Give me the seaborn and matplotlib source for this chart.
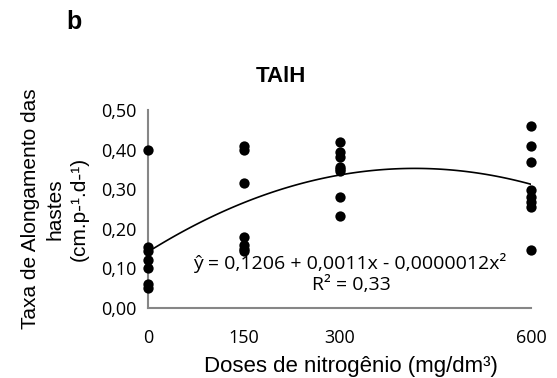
import pandas as pd
import numpy as np
import matplotlib.pyplot as plt
import seaborn as sns

sns.set_theme(style="white", rc={"text.color": "black", "axes.labelcolor": "black"})

# leituras do gráfico (TAlH x dose de N)
dose_0 = [0.40, 0.155, 0.145, 0.12, 0.10, 0.06, 0.05]
dose_150 = [0.41, 0.40, 0.315, 0.18, 0.16, 0.15, 0.145]
dose_300 = [0.42, 0.395, 0.382, 0.357, 0.35, 0.345, 0.281, 0.232]
dose_600 = [0.46, 0.409, 0.369, 0.298, 0.281, 0.268, 0.256, 0.146]
doses = [0, 150, 300, 600]
y_ticks = [0.0, 0.1, 0.2, 0.3, 0.4, 0.5]

df = pd.DataFrame({
    "dose": [0] * len(dose_0) + [150] * len(dose_150) + [300] * len(dose_300) + [600] * len(dose_600),
    "taxa": dose_0 + dose_150 + dose_300 + dose_600,
})

fig = plt.figure(figsize=(5.57, 3.78), dpi=100)
ax = fig.add_axes([148 / 557, 1 - 308 / 378, 383 / 557, 198 / 378])

sns.regplot(data=df, x="dose", y="taxa", order=2, ci=None, ax=ax,
            scatter_kws={"s": 55, "color": "black", "alpha": 1, "clip_on": False,
                         "linewidths": 0, "zorder": 3},
            line_kws={"color": "black", "lw": 1.2})

ax.set_xlim(0, 600)
ax.set_ylim(0, 0.5)
ax.set_xticks(doses)
ax.set_yticks(y_ticks)
ax.set_xticklabels([str(d) for d in doses], fontsize=13, family="Open Sans")
ax.set_yticklabels([f"{v:.2f}".replace(".", ",") for v in y_ticks], fontsize=13, family="Open Sans")

for s in ["top", "right"]:
    ax.spines[s].set_visible(False)
for s in ["left", "bottom"]:
    ax.spines[s].set_color("#868686")
    ax.spines[s].set_linewidth(1.5)
ax.tick_params(axis="both", direction="out", length=5, width=1.5, color="#868686", labelcolor="black")
ax.tick_params(axis="x", pad=10)
ax.tick_params(axis="y", pad=3)

ax.set_xlabel("Doses de nitrogênio (mg/dm³)", fontsize=16, family="Liberation Sans")
ax.xaxis.set_label_coords(0.5 + (351 - 339.5) / 383, -0.24)
ax.set_ylabel("Taxa de Alongamento das\nhastes\n(cm.p-¹.d-¹)", fontsize=15, family="Liberation Sans",
              linespacing=1.38)
ax.yaxis.set_label_coords(-(148 - 89) / 383, 0.5)

fig.text(281 / 557, 1 - 77 / 378, "TAlH", fontsize=16, fontweight="bold", family="Liberation Sans",
         ha="center", va="center")
fig.text(74 / 557, 1 - 22 / 378, "b", fontsize=18, fontweight="bold", family="Liberation Sans",
         ha="center", va="center")
fig.text(350 / 557, 1 - 263 / 378, "ŷ = 0,1206 + 0,0011x - 0,0000012x²", fontsize=14,
         family="Open Sans", ha="center", va="center")
fig.text(351 / 557, 1 - 285 / 378, "R² = 0,33", fontsize=14, family="Open Sans",
         ha="center", va="center")

plt.savefig("out.png", dpi=100)
